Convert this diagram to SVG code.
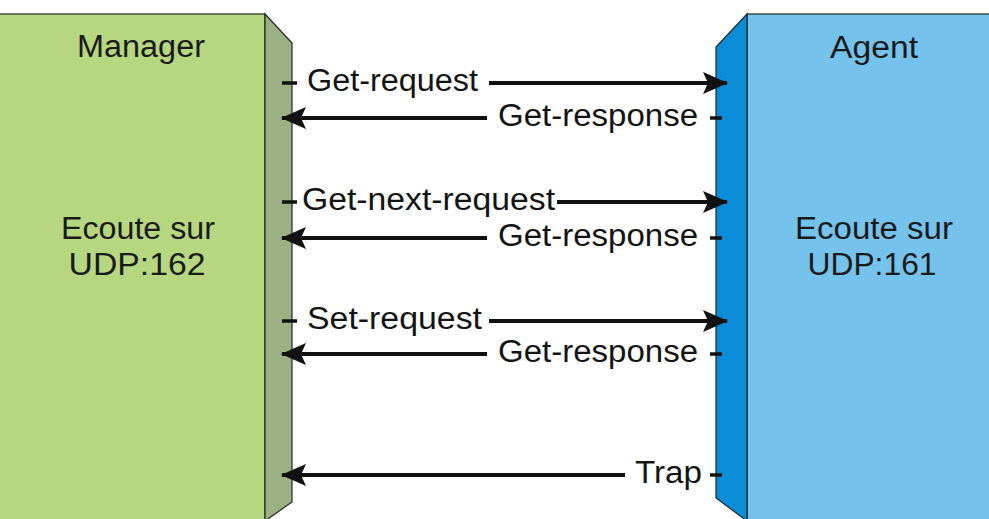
<svg xmlns="http://www.w3.org/2000/svg" width="989" height="519" viewBox="0 0 989 519">
<style>
.t{font-family:"Liberation Sans",Arial,sans-serif;font-size:31px;fill:#141414}
.n{font-family:"Liberation Sans",Arial,sans-serif;font-size:31px;fill:#1a1a1a;text-anchor:middle}
.ln{stroke:#111;stroke-width:4;fill:none}
.d{stroke:#111;stroke-width:3.5}
.edge{stroke:#1e2a1e;stroke-width:1.2}
</style>
<defs>
<marker id="ah" markerUnits="userSpaceOnUse" markerWidth="26" markerHeight="24" refX="24" refY="12" orient="auto">
<path d="M0,1 L25,12 L0,23 L5,12 z" fill="#111"/>
</marker>
</defs>
<rect width="989" height="519" fill="#ffffff"/>
<g id="manager">
<rect x="-2" y="14" width="267" height="510" fill="#b6d77f" class="edge"/>
<polygon points="265,14 292,43 292,502 265,521" fill="#9cb183" class="edge"/>
<text class="n" x="141" y="57" textLength="128" lengthAdjust="spacingAndGlyphs">Manager</text>
<text class="n" x="138" y="239" textLength="154" lengthAdjust="spacingAndGlyphs">Ecoute sur</text>
<text class="n" x="137" y="275" textLength="137" lengthAdjust="spacingAndGlyphs">UDP:162</text>
</g>
<g id="agent">
<rect x="747" y="14" width="245" height="510" fill="#75c2ec" class="edge"/>
<polygon points="747,14 716,47 716,498 747,521" fill="#0b8cd9" class="edge"/>
<text class="n" x="874" y="58" textLength="88" lengthAdjust="spacingAndGlyphs">Agent</text>
<text class="n" x="874" y="239" textLength="158" lengthAdjust="spacingAndGlyphs">Ecoute sur</text>
<text class="n" x="872" y="275" textLength="129" lengthAdjust="spacingAndGlyphs">UDP:161</text>
</g>
<g id="connectors">
<line class="d" x1="282" y1="83" x2="297" y2="83"/>
<text class="t" x="307" y="91" textLength="171" lengthAdjust="spacingAndGlyphs">Get-request</text>
<line class="ln" x1="489" y1="83" x2="727" y2="83" marker-end="url(#ah)"/>
<line class="ln" x1="487" y1="118" x2="282" y2="118" marker-end="url(#ah)"/>
<text class="t" x="498" y="126" textLength="200" lengthAdjust="spacingAndGlyphs">Get-response</text>
<line class="d" x1="710" y1="118" x2="722" y2="118"/>
<line class="d" x1="282" y1="202" x2="297" y2="202"/>
<text class="t" x="302" y="210" textLength="253" lengthAdjust="spacingAndGlyphs">Get-next-request</text>
<line class="ln" x1="557" y1="202" x2="727" y2="202" marker-end="url(#ah)"/>
<line class="ln" x1="487" y1="238" x2="282" y2="238" marker-end="url(#ah)"/>
<text class="t" x="498" y="246" textLength="200" lengthAdjust="spacingAndGlyphs">Get-response</text>
<line class="d" x1="710" y1="238" x2="722" y2="238"/>
<line class="d" x1="282" y1="321" x2="297" y2="321"/>
<text class="t" x="307" y="329" textLength="175" lengthAdjust="spacingAndGlyphs">Set-request</text>
<line class="ln" x1="489" y1="321" x2="727" y2="321" marker-end="url(#ah)"/>
<line class="ln" x1="487" y1="354" x2="282" y2="354" marker-end="url(#ah)"/>
<text class="t" x="498" y="362" textLength="200" lengthAdjust="spacingAndGlyphs">Get-response</text>
<line class="d" x1="710" y1="354" x2="722" y2="354"/>
<line class="ln" x1="625" y1="475" x2="282" y2="475" marker-end="url(#ah)"/>
<text class="t" x="635" y="483" textLength="67" lengthAdjust="spacingAndGlyphs">Trap</text>
<line class="d" x1="710" y1="475" x2="722" y2="475"/>
</g>
</svg>
